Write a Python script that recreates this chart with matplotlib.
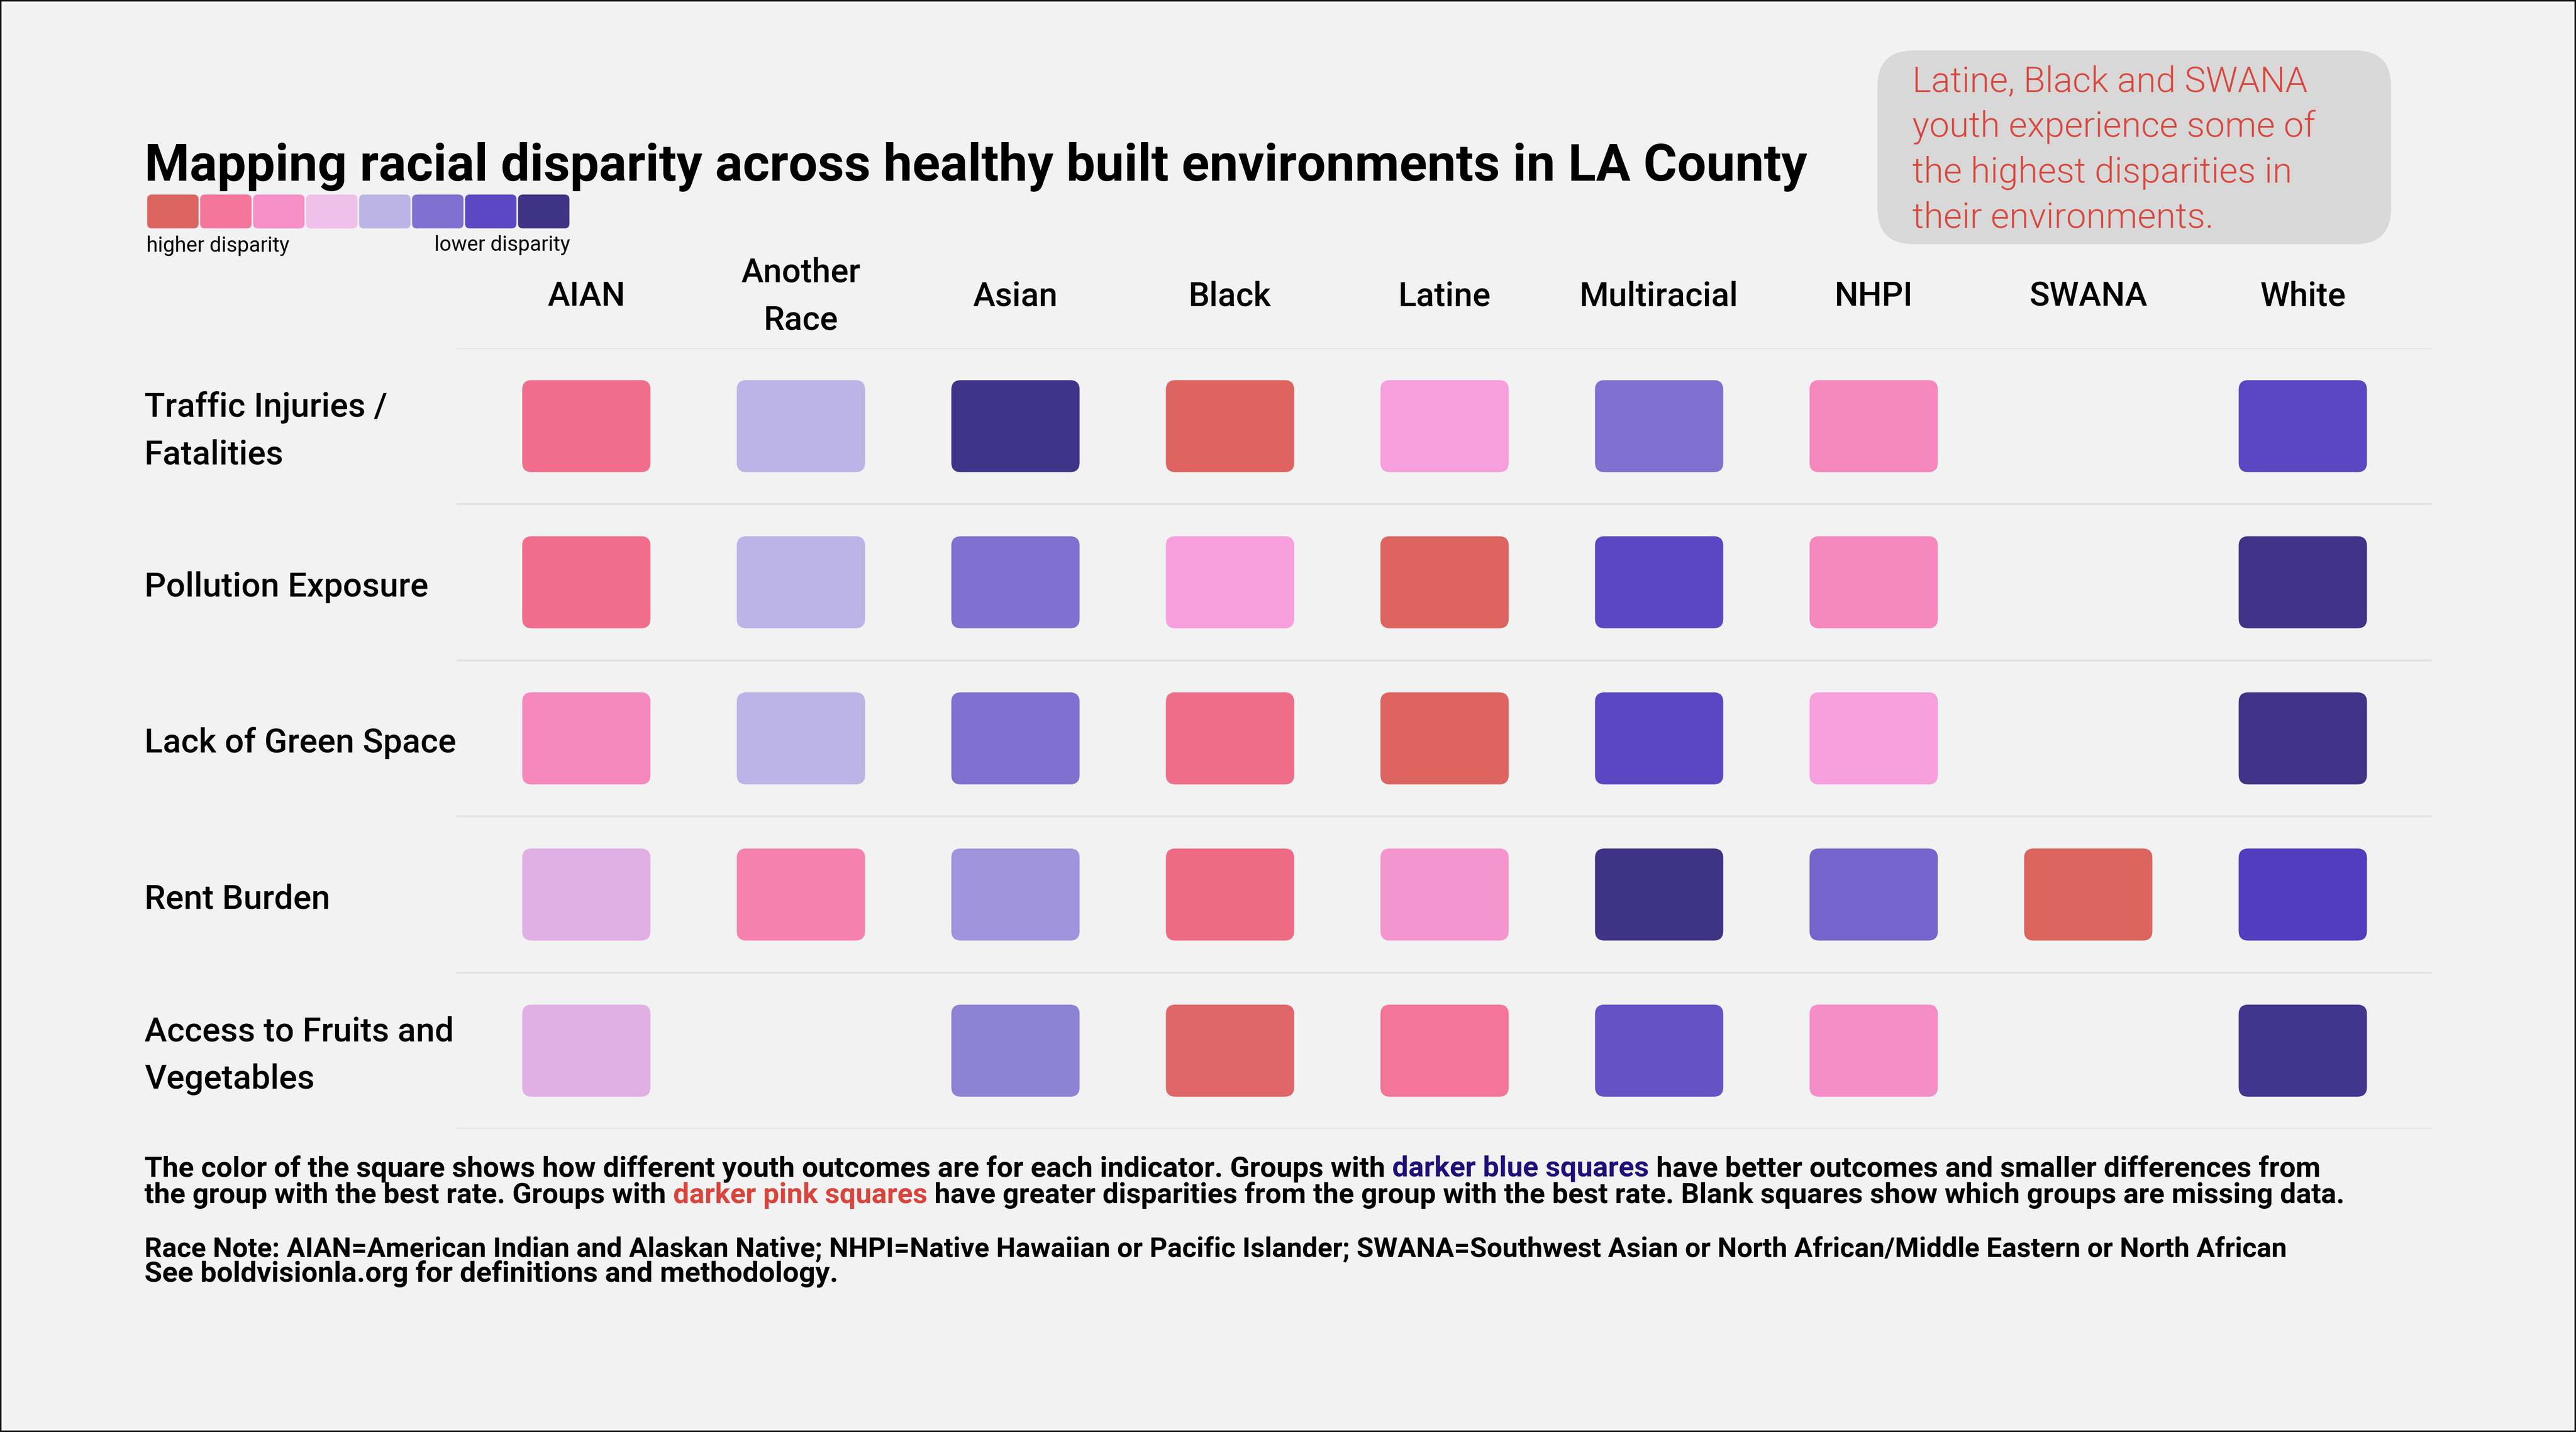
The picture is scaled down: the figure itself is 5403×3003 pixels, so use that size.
import matplotlib
matplotlib.use('Agg')
import matplotlib.pyplot as plt
from matplotlib.patches import FancyBboxPatch, Rectangle
from matplotlib import font_manager as fm

W, H = 5403, 3003

# ---- data ----
groups = ['AIAN', 'Another\nRace', 'Asian', 'Black', 'Latine', 'Multiracial', 'NHPI', 'SWANA', 'White']
indicators = ['Traffic Injuries /\nFatalities', 'Pollution Exposure', 'Lack of Green Space',
              'Rent Burden', 'Access to Fruits and\nVegetables']

# legend scale, higher disparity -> lower disparity
scale_colors = ['#DB6460', '#F4769A', '#F68FC8', '#EFC0EA', '#BDB4E6', '#8070CF', '#5C48C2', '#3F3385']

# square colour per group (None = missing data)
traffic = ['#F06E8C', '#BCB3E6', '#40338A', '#DD6461', '#F79EDD', '#8070CF', '#F587BC', None, '#5B47C2']
pollution = ['#F06E8C', '#BCB3E6', '#8070CF', '#F79EDD', '#DD6461', '#5B47C2', '#F587BC', None, '#403388']
green = ['#F587BC', '#BCB3E6', '#8070CF', '#EF6C88', '#DD6461', '#5B47C2', '#F79EDD', None, '#403388']
rent = ['#E0B0E4', '#F582AE', '#9F94DC', '#EF6A84', '#F595CF', '#3F3385', '#7564CB', '#DB645F', '#513DBD']
fruits = ['#E0B0E4', None, '#8E82D4', '#DF6668', '#F37598', '#6553C5', '#F58DC8', None, '#423590']
cells = [traffic, pollution, green, rent, fruits]

title = 'Mapping racial disparity across healthy built environments in LA County'
callout = ['Latine, Black and SWANA', 'youth experience some of',
           'the highest disparities in', 'their environments.']
footer = [
    [('The color of the square shows how different youth outcomes are for each indicator. Groups with', 'k'),
     ('darker blue squares', '#1F0F78'),
     ('have better outcomes and smaller differences from', 'k')],
    [('the group with the best rate. Groups with', 'k'),
     ('darker pink squares', '#D9443C'),
     ('have greater disparities from the group with the best rate. Blank squares show which groups are missing data.', 'k')],
    [('Race Note: AIAN=American Indian and Alaskan Native; NHPI=Native Hawaiian or Pacific Islander; '
      'SWANA=Southwest Asian or North African/Middle Eastern or North African', 'k')],
    [('See boldvisionla.org for definitions and methodology.', 'k')],
]

# ---- font ----
avail = {f.name for f in fm.fontManager.ttflist}
FONT = 'DejaVu Sans'
for cand in ['Liberation Sans Narrow', 'Roboto', 'Open Sans']:
    if cand in avail:
        FONT = cand
        break
plt.rcParams['font.family'] = [FONT, 'DejaVu Sans']

fig = plt.figure(figsize=(W / 300, H / 300), dpi=300, facecolor='#F2F2F2')
R = fig.canvas.get_renderer()

# overlay in pixel units for annotations
ov = fig.add_axes([0, 0, 1, 1])
ov.set_xlim(0, W)
ov.set_ylim(H, 0)
ov.axis('off')
ov.add_patch(Rectangle((0, 0), W, H, fill=False, ec='#111111', lw=1.5))


def width(t):
    return t.get_window_extent(renderer=R).width


def put(x, y, s, size, target=None, **kw):
    t = ov.text(x, y, s, fontsize=size, va='baseline', **kw)
    if target:
        t.set_fontsize(size * target / width(t))
    return t


def fit_size(s, size, target, **kw):
    t = ov.text(0, 0, s, fontsize=size, **kw)
    new = size * target / width(t)
    t.remove()
    return new


def space_w(size, **kw):
    a = ov.text(0, 0, 'n n', fontsize=size, **kw)
    b = ov.text(0, 0, 'nn', fontsize=size, **kw)
    d = width(a) - width(b)
    a.remove()
    b.remove()
    return d


def rich(x, y, parts, size, **kw):
    sp = space_w(size, **kw)
    cx = x
    for s, c in parts:
        t = ov.text(cx, y, s, fontsize=size, color=c, va='baseline', **kw)
        cx += width(t) + sp


# ---- title + legend ----
put(303, 379, title, 24, target=3487, fontweight='bold', color='k')

lg = fig.add_axes([307 / W, 1 - 479 / H, (1196 - 307) / W, (479 - 408) / H])
lg.set_xlim(-0.5, len(scale_colors) - 0.5)
lg.set_ylim(0, 1)
lg.axis('off')
for i, c in enumerate(scale_colors):
    lg.add_patch(FancyBboxPatch((i - 0.485, 0), 0.97, 1, boxstyle='round,pad=0,rounding_size=0.09',
                                mutation_aspect=111 / 71, fc=c, ec='none'))
lsize = fit_size('higher disparity', 12, 300)
put(307, 528, 'higher disparity', lsize, color='k')
put(1196, 526, 'lower disparity', lsize, color='k', ha='right')

# ---- callout ----
ov.add_patch(FancyBboxPatch((3938, 106), 5015 - 3938, 512 - 106,
                            boxstyle='round,pad=0,rounding_size=75', fc='#D8D8D8', ec='none'))
csize = fit_size(callout[1], 19, 845, fontweight=300)
for k, line in enumerate(callout):
    put(4011, 192 + 95 * k, line, csize, color='#D9473E', fontweight=300)

# ---- grid ----
ax = fig.add_axes([958 / W, 1 - 2367 / H, (5100 - 958) / W, (2367 - 730) / H])
ax.set_xlim(-0.604, 8.6)
ax.set_ylim(len(indicators) - 0.5, -0.5)
ax.axis('off')
for k in range(len(indicators) + 1):
    ax.axhline(k - 0.5, color='#E3E3E3', lw=1.0, zorder=0)

ext = ax.get_window_extent(renderer=R)
px_x = ext.width / (8.6 + 0.604)
px_y = ext.height / len(indicators)
sq_w, sq_h = 269 / px_x, 193 / px_y
rad = 20 / px_x
for j, row in enumerate(cells):
    for i, c in enumerate(row):
        if c is None:
            continue
        ax.add_patch(FancyBboxPatch((i - sq_w / 2, j - sq_h / 2), sq_w, sq_h,
                                    boxstyle=f'round,pad=0,rounding_size={rad}',
                                    mutation_aspect=px_x / px_y, fc=c, ec='none'))

# column headers
hsize = fit_size('Multiracial', 20, 334, fontweight='medium')
for i, g in enumerate(groups):
    xc = ax.transData.transform((i, 0))[0]
    lines = g.split('\n')
    n = len(lines)
    for k, line in enumerate(lines):
        put(xc, 641 + (k - (n - 1) / 2) * 100, line, hsize, color='k', ha='center', fontweight='medium')

# row labels
rsize = fit_size('Lack of Green Space', 20, 655, fontweight='medium')
for j, lab in enumerate(indicators):
    yc = H - ax.transData.transform((0, j))[1]
    lines = lab.split('\n')
    n = len(lines)
    for k, line in enumerate(lines):
        put(303, yc + 30 + (k - (n - 1) / 2) * 99, line, rsize, color='k', fontweight='medium')

# ---- footer ----
base = [2467, 2523, 2635, 2688]
targets = [4571, 4617, 4494, None]
size0 = fit_size(' '.join(s for s, _ in footer[0]), 14, targets[0], fontweight='bold')
for parts, y, tw in zip(footer, base, targets):
    fs = size0
    if tw:
        fs = fit_size(' '.join(s for s, _ in parts), 14, tw, fontweight='bold')
    rich(303, y, parts, fs, fontweight='bold')

fig.savefig('out.png', dpi=300, facecolor=fig.get_facecolor())
